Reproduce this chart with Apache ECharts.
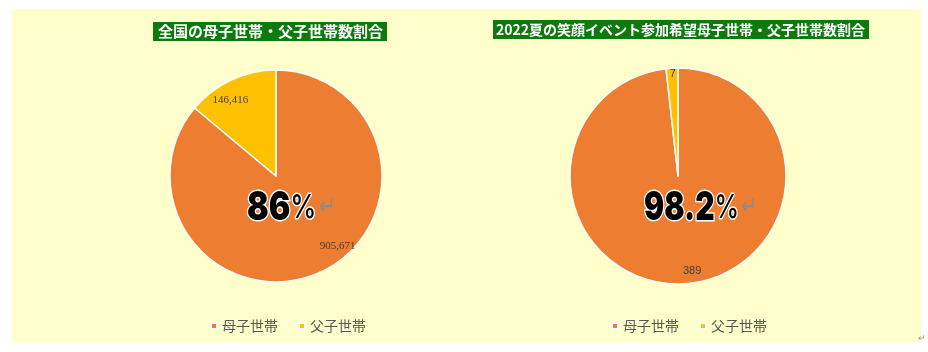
<!DOCTYPE html>
<html><head><meta charset="utf-8">
<script src="https://cdn.jsdelivr.net/npm/echarts@6/dist/echarts.min.js"></script>
<style>html,body{margin:0;padding:0;background:#fff}#c{width:928px;height:352px}</style>
</head><body><div id="c"></div>
<script>
const categories = ['母子世帯', '父子世帯'];
const nationalValues = [905671, 146416];
const eventValues = [389, 7];
const titles = ['全国の母子世帯・父子世帯数割合', '2022夏の笑顔イベント参加希望母子世帯・父子世帯数割合'];
const centerTexts = ['86', '98.2'];
const colors = ['#ED7D31', '#FFC000'];

const chart = echarts.init(document.getElementById('c'), null, {renderer: 'canvas'});
const fmt = v => v.toLocaleString('en-US');

function pieSeries(vals, center, radius, offsets, font) {
  return {
    type: 'pie', center: center, radius: radius, startAngle: 90, clockwise: true,
    animation: false, silent: true,
    itemStyle: {borderColor: '#fff', borderWidth: 1.5},
    label: {show: true, position: 'inside', formatter: p => fmt(p.value), color: '#404040', fontSize: 11, fontFamily: font},
    labelLine: {show: false},
    data: categories.map((c, i) => ({name: c, value: vals[i], itemStyle: {color: colors[i]}, label: {offset: offsets[i]}}))
  };
}

const bigText = (t, x, sx) => ({
  type: 'text', x: x, y: 188, scaleX: sx, z: 10,
  style: {
    text: '{n|' + t + '}{p|%}{a|↵}',
    rich: {
      n: {fontFamily: 'Inter', fontWeight: 900, fontSize: 40, fill: '#000', stroke: '#fff', lineWidth: 3},
      p: {fontFamily: 'Inter', fontWeight: 500, fontSize: 33, fill: '#000', stroke: '#fff', lineWidth: 3},
      a: {fontFamily: 'DejaVu Sans', fontSize: 24, fill: '#8c8c8c', padding: [0, 0, 0, 3]}
    }
  }
});

chart.setOption({
  backgroundColor: '#fff',
  graphic: [
    {type: 'rect', shape: {x: 12, y: 9, width: 909, height: 333}, style: {fill: '#FFFFCC'}, z: -10},
    bigText(centerTexts[0], 247, 0.8),
    bigText(centerTexts[1], 644, 0.75),
    {type: 'text', left: 918, top: 334, style: {text: '↵', fontSize: 9, fill: '#999'}}
  ],
  title: [
    {text: titles[0], left: 153, top: 22, backgroundColor: '#0E7A0E', padding: [1, 4, 1, 5],
      textStyle: {color: '#fff', fontSize: 15, fontWeight: 'bold', fontFamily: 'Noto Sans CJK JP', lineHeight: 17}},
    {text: titles[1], left: 493, top: 20, backgroundColor: '#0E7A0E', padding: [1, 4, 1, 3],
      textStyle: {color: '#fff', fontSize: 14, fontWeight: 'bold', fontFamily: 'Noto Sans CJK JP', lineHeight: 17}}
  ],
  legend: [
    {data: categories, left: 205, top: 314, itemWidth: 6, itemHeight: 6, itemGap: 20, icon: 'rect',
      textStyle: {color: '#595959', fontSize: 14, fontFamily: 'Noto Sans CJK JP'}, seriesIndex: 0},
    {data: categories, left: 606, top: 314, itemWidth: 6, itemHeight: 6, itemGap: 20, icon: 'rect',
      textStyle: {color: '#595959', fontSize: 14, fontFamily: 'Noto Sans CJK JP'}}
  ],
  series: [
    pieSeries(nationalValues, [276, 176], 106, [[38, 19], [-22, -25]], 'Liberation Serif'),
    pieSeries(eventValues, [678, 176], 108, [[11, 38], [-2, -45]], 'Liberation Sans')
  ]
});
</script></body></html>
